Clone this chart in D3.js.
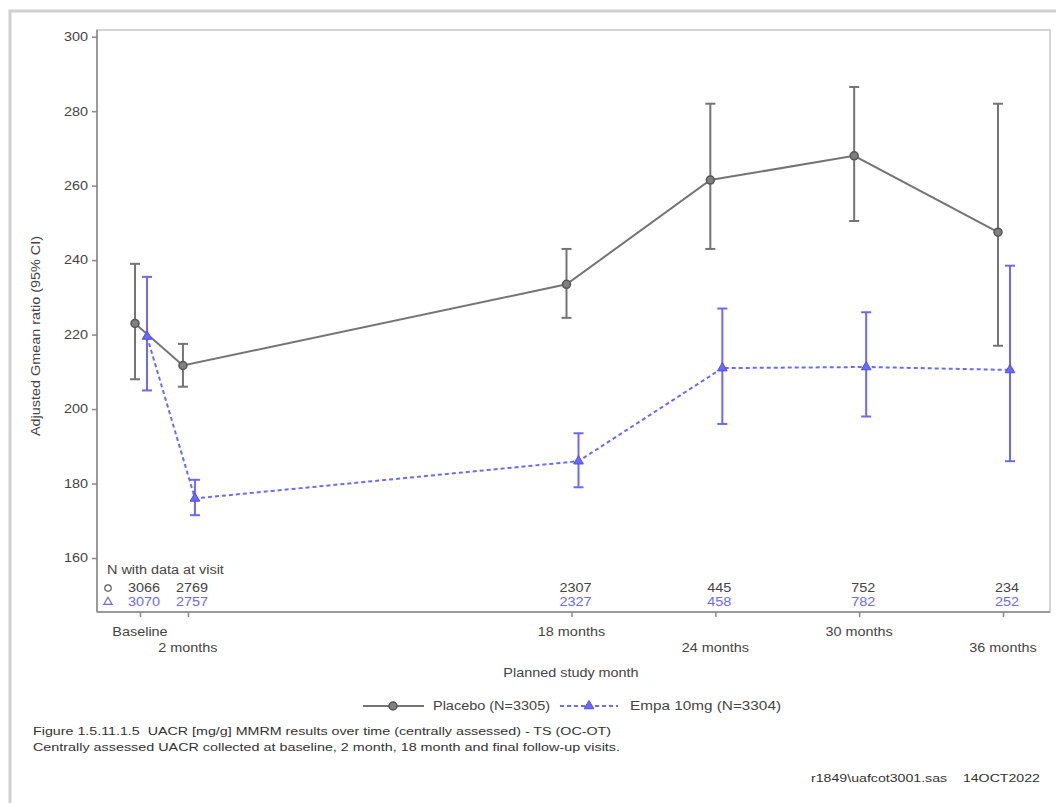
<!DOCTYPE html>
<html><head><meta charset="utf-8">
<script src="https://cdn.jsdelivr.net/npm/d3@7"></script>
<style>body{margin:0;background:#fff;font-family:"Liberation Sans",Arial,sans-serif}</style>
</head><body>
<svg id="c" width="1056" height="803"></svg>
<script>
const months = [0, 2, 18, 24, 30, 36];
const visitLabels = ["Baseline", "2 months", "18 months", "24 months", "30 months", "36 months"];
const placeboMean = [223, 211.7, 233.5, 261.5, 268, 247.5];
const placeboLow  = [208, 206, 224.5, 243, 250.5, 217];
const placeboHigh = [239, 217.5, 243, 282, 286.5, 282];
const empaMean = [219.5, 176, 186, 211, 211.3, 210.5];
const empaLow  = [205, 171.5, 179, 196, 198, 186];
const empaHigh = [235.5, 181, 193.5, 227, 226, 238.5];
const placeboN = [3066, 2769, 2307, 445, 752, 234];
const empaN    = [3070, 2757, 2327, 458, 782, 252];
const yTicks = [160, 180, 200, 220, 240, 260, 280, 300];

const svg = d3.select("#c");
const font = "Liberation Sans, Arial, sans-serif";
const grey = "#747474", greyDark = "#555", blue = "#6a6aff";
const txt = "#444";

// outer light border
svg.append("path").attr("d","M10,803 V11 H1056").attr("fill","none").attr("stroke","#d0d0d0").attr("stroke-width",3);

const L = 97, R = 1050, T = 30, B = 612;
const x = d3.scaleLinear().domain([0, 36]).range([140, 1003]);
const y = d3.scaleLinear().domain([145.5, 301.8]).range([B, T]);

// frame
svg.append("rect").attr("x",L).attr("y",T).attr("width",R-L).attr("height",B-T)
  .attr("fill","none").attr("stroke","#d4d4d4").attr("stroke-width",2);
svg.append("line").attr("x1",L).attr("x2",L).attr("y1",T).attr("y2",B).attr("stroke","#9a9a9a").attr("stroke-width",2);
svg.append("line").attr("x1",L).attr("x2",R).attr("y1",B).attr("y2",B).attr("stroke","#9a9a9a").attr("stroke-width",2);

// y axis
const yAxis = svg.append("g").attr("transform",`translate(${L},0)`)
  .call(d3.axisLeft(y).tickValues(yTicks).tickSize(5).tickPadding(4));
yAxis.select(".domain").remove();
yAxis.selectAll("line").attr("stroke","#8a8a8a").attr("stroke-width",1.5);
yAxis.selectAll("text").attr("font-family",font).attr("font-size",12).attr("fill",txt).classed("st",true);

svg.append("text").attr("class","st").attr("transform",`translate(40,${(T+B)/2+15}) rotate(-90)`)
  .attr("text-anchor","middle").attr("font-family",font).attr("font-size",12).attr("fill",txt)
  .text("Adjusted Gmean ratio (95% CI)");

// x axis
const xAxis = svg.append("g").attr("transform",`translate(0,${B})`)
  .call(d3.axisBottom(x).tickValues(months).tickSize(5).tickFormat(""));
xAxis.select(".domain").remove();
xAxis.selectAll("line").attr("stroke","#8a8a8a").attr("stroke-width",1.5);
svg.selectAll(".xl").data(months).enter().append("text").attr("class","st")
  .attr("x",d=>x(d)).attr("y",(d,i)=>i%2===0?636:652)
  .attr("text-anchor","middle").attr("font-family",font).attr("font-size",12).attr("fill",txt)
  .text((d,i)=>visitLabels[i]);
svg.append("text").attr("class","st").attr("x",571).attr("y",677).attr("text-anchor","middle")
  .attr("font-family",font).attr("font-size",12).attr("fill",txt).text("Planned study month");

const offP = -5, offE = 7;
function drawSeries(mean, lo, hi, off, color, dash, marker){
  const g = svg.append("g");
  const line = d3.line().x((d,i)=>x(months[i])+off).y(d=>y(d));
  g.append("path").attr("d",line(mean)).attr("fill","none").attr("stroke",color)
    .attr("stroke-width",2).attr("stroke-dasharray",dash);
  months.forEach((m,i)=>{
    const cx = x(m)+off;
    g.append("line").attr("x1",cx).attr("x2",cx).attr("y1",y(lo[i])).attr("y2",y(hi[i])).attr("stroke",color).attr("stroke-width",2);
    [lo[i],hi[i]].forEach(v=>g.append("line").attr("x1",cx-5).attr("x2",cx+5).attr("y1",y(v)).attr("y2",y(v)).attr("stroke",color).attr("stroke-width",2));
    marker(g, cx, y(mean[i]));
  });
}
const circ = (g,cx,cy)=>g.append("circle").attr("cx",cx).attr("cy",cy).attr("r",4).attr("fill","#808080").attr("stroke",greyDark).attr("stroke-width",1.5);
const tri = (g,cx,cy)=>g.append("path").attr("d",d3.symbol(d3.symbolTriangle,40)()).attr("transform",`translate(${cx},${cy})`).attr("fill",blue).attr("stroke","#4a4aff").attr("stroke-width",1);

drawSeries(placeboMean, placeboLow, placeboHigh, offP, grey, null, circ);
drawSeries(empaMean, empaLow, empaHigh, offE, blue, "4,3", tri);

// N table
svg.append("text").attr("class","st").attr("x",107).attr("y",574).attr("font-family",font).attr("font-size",12).attr("fill",txt).text("N with data at visit");
svg.append("circle").attr("cx",108).attr("cy",588).attr("r",3.2).attr("fill","none").attr("stroke","#555").attr("stroke-width",1.2);
svg.append("path").attr("d",d3.symbol(d3.symbolTriangle,30)()).attr("transform","translate(108,602)").attr("fill","none").attr("stroke",blue).attr("stroke-width",1.2);
svg.selectAll(".np").data(placeboN).enter().append("text").attr("class","st").attr("x",(d,i)=>x(months[i])+4).attr("y",592)
  .attr("text-anchor","middle").attr("font-family",font).attr("font-size",12).attr("fill",txt).text(d=>d);
svg.selectAll(".ne").data(empaN).enter().append("text").attr("class","st").attr("x",(d,i)=>x(months[i])+4).attr("y",606)
  .attr("text-anchor","middle").attr("font-family",font).attr("font-size",12).attr("fill",blue).text(d=>d);

// legend
const lg = svg.append("g");
lg.append("line").attr("x1",363).attr("x2",424).attr("y1",706).attr("y2",706).attr("stroke",grey).attr("stroke-width",2);
circ(lg,393,706);
lg.append("text").attr("x",433).attr("y",710).attr("font-family",font).attr("font-size",12).attr("fill",txt)
  .attr("textLength",117).attr("lengthAdjust","spacingAndGlyphs").text("Placebo (N=3305)");
lg.append("line").attr("x1",560).attr("x2",618).attr("y1",706).attr("y2",706).attr("stroke",blue).attr("stroke-width",2).attr("stroke-dasharray","4,3");
tri(lg,589,706);
lg.append("text").attr("x",630).attr("y",710).attr("font-family",font).attr("font-size",12).attr("fill",txt)
  .attr("textLength",151).attr("lengthAdjust","spacingAndGlyphs").text("Empa 10mg (N=3304)");

// footnotes
svg.append("text").attr("x",33).attr("y",735).attr("font-family",font).attr("font-size",11.5).attr("fill","#333")
  .attr("textLength",578).attr("lengthAdjust","spacingAndGlyphs")
  .attr("xml:space","preserve").text("Figure 1.5.11.1.5  UACR [mg/g] MMRM results over time (centrally assessed) - TS (OC-OT)");
svg.append("text").attr("x",33).attr("y",751).attr("font-family",font).attr("font-size",11.5).attr("fill","#333")
  .attr("textLength",587).attr("lengthAdjust","spacingAndGlyphs")
  .text("Centrally assessed UACR collected at baseline, 2 month, 18 month and final follow-up visits.");
svg.append("text").attr("x",811).attr("y",782).attr("font-family",font).attr("font-size",11.5).attr("fill","#333")
  .attr("textLength",229).attr("lengthAdjust","spacingAndGlyphs")
  .attr("xml:space","preserve").text("r1849\\uafcot3001.sas    14OCT2022");

// horizontally widen generic labels to match the reference's stretched text
svg.selectAll(".st").each(function(){
  const w = this.getComputedTextLength();
  d3.select(this).attr("textLength", w*1.2).attr("lengthAdjust","spacingAndGlyphs");
});
</script>
</body></html>
